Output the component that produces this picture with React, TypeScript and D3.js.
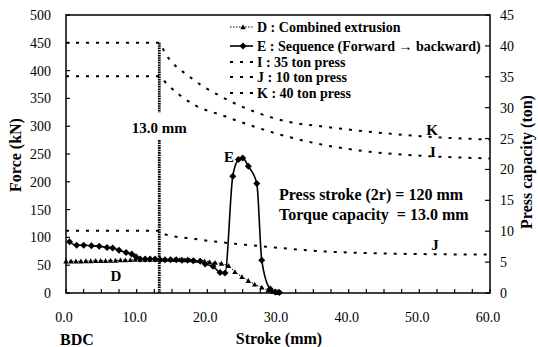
import { line, curveMonotoneX, curveLinear, range, scaleLinear } from "d3";

const W = 538;
const H = 347;
const M = { top: 15, right: 48, bottom: 54, left: 66 };

// stroke (mm) / force (kN)
const seriesK: [number, number][] = [
  [0, 450], [13.2, 450], [14.0, 432], [17.8, 386], [22.0, 353], [26.7, 326],
  [31.4, 308], [36.6, 299], [43.0, 290], [50.1, 282], [60, 276],
];
const seriesI: [number, number][] = [
  [0, 390], [13.2, 390], [14.2, 377], [18.2, 338], [22.0, 320], [26.7, 299],
  [31.4, 281], [36.6, 266], [43.0, 254], [50.1, 247], [60, 242],
];
const seriesJ: [number, number][] = [
  [0, 112], [13.2, 112], [13.6, 107], [18.3, 97], [22.9, 90], [27.7, 84],
  [36.2, 75], [45.6, 71], [60, 69],
];
const seriesE: [number, number][] = [
  [0.5, 92], [1.5, 86], [2.5, 86], [3.6, 85], [4.7, 84], [5.8, 82], [6.6, 81],
  [7.5, 77], [8.5, 73], [9.3, 70], [9.9, 65], [10.5, 61], [11.2, 61], [11.9, 61],
  [12.6, 61], [13.3, 60], [14.0, 60], [14.8, 60], [15.6, 60], [16.4, 59], [17.2, 59],
  [18.0, 58], [19.0, 57], [19.7, 52], [20.8, 48], [21.8, 37], [22.5, 36],
  [23.6, 210], [24.4, 240], [25.0, 243], [25.8, 228], [27.0, 197], [27.7, 59],
  [28.9, 7], [29.6, 2], [30.2, 1],
];
const seriesD: [number, number][] = [
  [0.0, 57], [0.7, 57], [1.4, 57], [2.1, 57], [2.8, 57.5], [3.5, 57.5], [4.2, 58],
  [4.9, 58], [5.6, 58], [6.3, 58.5], [7.0, 58.5], [7.7, 59], [8.4, 59], [9.1, 59.5],
  [9.8, 60], [10.5, 60], [11.2, 60], [11.9, 60], [12.6, 60], [13.3, 60], [14.0, 60],
  [14.7, 60], [15.4, 59.5], [16.1, 59.5], [16.8, 59], [17.5, 59], [18.2, 58.5],
  [18.9, 58], [19.6, 57], [20.3, 56], [21.1, 54.5], [22.0, 53], [23.0, 49],
  [23.9, 38], [24.9, 29], [25.8, 22], [26.7, 15.6], [27.7, 10], [28.6, 5],
  [29.3, 2], [30.0, 0.5],
];

const TORQUE_STROKE = 13.2;
const torqueSegments: [number, number][] = [[450, 324], [275, 0]];

const xTickValues = [0, 10, 20, 30, 40, 50, 60];
const yTickValues = [0, 50, 100, 150, 200, 250, 300, 350, 400, 450, 500];
const yRightTickValues = [0, 5, 10, 15, 20, 25, 30, 35, 40, 45];

const legendItems = [
  { key: "D", text: "D : Combined extrusion" },
  { key: "E", text: "E : Sequence (Forward \u2192 backward)" },
  { key: "I", text: "I : 35 ton press" },
  { key: "J", text: "J : 10 ton press" },
  { key: "K", text: "K : 40 ton press" },
];
const legendRows = [27, 46, 62, 77, 93];

const FONT = '"Liberation Serif"';

export default function App() {
  const x = scaleLinear().domain([0, 60]).range([M.left, W - M.right]);
  const y = scaleLinear().domain([0, 500]).range([H - M.bottom, M.top]);
  const yR = scaleLinear().domain([0, 45]).range([H - M.bottom, M.top]);

  const smooth = line<[number, number]>()
    .x((d) => x(d[0]))
    .y((d) => y(d[1]))
    .curve(curveMonotoneX);
  const straight = line<[number, number]>()
    .x((d) => x(d[0]))
    .y((d) => y(d[1]))
    .curve(curveLinear);

  const x0 = M.left;
  const x1 = W - M.right;
  const y0 = H - M.bottom;
  const y1 = M.top;

  const tri = (cx: number, cy: number, s = 2.7) =>
    `M${cx},${cy - s} L${cx + s},${cy + s * 0.8} L${cx - s},${cy + s * 0.8} Z`;
  const diamond = (cx: number, cy: number, s = 3.5) =>
    `M${cx},${cy - s} L${cx + s},${cy} L${cx},${cy + s} L${cx - s},${cy} Z`;

  const capStyle = { fill: "none", stroke: "#000", strokeWidth: 2, strokeDasharray: "3 7" };
  const txt = { fontFamily: FONT };

  return (
    <svg
      width={W}
      height={H}
      viewBox={`0 0 ${W} ${H}`}
      style={{ position: "absolute", left: 0, top: 0, background: "#fff" }}
    >
      <rect x={0} y={0} width={W} height={H} fill="#fff" />

      {/* press capacity curves */}
      <path d={smooth(seriesK) ?? ""} {...capStyle} />
      <path d={smooth(seriesI) ?? ""} {...capStyle} />
      <path d={smooth(seriesJ) ?? ""} {...capStyle} />

      {/* torque capacity line */}
      {torqueSegments.map(([a, b], i) => (
        <line
          key={i}
          x1={x(TORQUE_STROKE)}
          x2={x(TORQUE_STROKE)}
          y1={y(a)}
          y2={y(b)}
          stroke="#000"
          strokeWidth={2.8}
          strokeDasharray="1.6 0.8"
        />
      ))}

      {/* D */}
      <path d={straight(seriesD) ?? ""} fill="none" stroke="#000" strokeWidth={1} strokeDasharray="1.5 1.5" />
      {seriesD.map((d, i) => (
        <path key={i} d={tri(x(d[0]), y(d[1]))} fill="#000" />
      ))}

      {/* E */}
      <path d={smooth(seriesE) ?? ""} fill="none" stroke="#000" strokeWidth={1.6} />
      {seriesE.map((d, i) => (
        <path key={i} d={diamond(x(d[0]), y(d[1]))} fill="#000" />
      ))}

      {/* frame */}
      <rect x={x0} y={y1} width={x1 - x0} height={y0 - y1} fill="none" stroke="#000" strokeWidth={1.5} />

      {/* bottom ticks */}
      {range(0, 60.01, 2.5).map((v) => (
        <line key={v} x1={x(v)} x2={x(v)} y1={y0} y2={y0 - 4} stroke="#000" strokeWidth={1.2} />
      ))}
      {xTickValues.map((v) => (
        <text key={v} style={txt} x={x(v) - 2} y={322} textAnchor="middle" fontSize={14} fill="#000">
          {v.toFixed(1)}
        </text>
      ))}

      {/* left ticks */}
      {yTickValues.map((v) => (
        <g key={v}>
          <line x1={x0} x2={x0 + 4} y1={y(v)} y2={y(v)} stroke="#000" strokeWidth={1.2} />
          <text style={txt} x={51} y={y(v) + 5} textAnchor="end" fontSize={14} fill="#000">
            {v}
          </text>
        </g>
      ))}

      {/* right ticks */}
      {yRightTickValues.map((v) => (
        <g key={v}>
          <line x1={x1} x2={x1 - 5} y1={yR(v)} y2={yR(v)} stroke="#000" strokeWidth={1.2} />
          <text style={txt} x={500} y={yR(v) + 5} textAnchor="start" fontSize={14} fill="#000">
            {v}
          </text>
        </g>
      ))}

      {/* axis titles */}
      <text
        style={txt}
        transform={`translate(21,155) rotate(-90)`}
        textAnchor="middle"
        fontSize={16}
        fontWeight="bold"
        fill="#000"
      >
        Force (kN)
      </text>
      <text
        style={txt}
        transform={`translate(532,162) rotate(-90)`}
        textAnchor="middle"
        fontSize={16}
        fontWeight="bold"
        fill="#000"
      >
        Press capacity (ton)
      </text>
      <text style={txt} x={279} y={344} textAnchor="middle" fontSize={16} fontWeight="bold" fill="#000">
        Stroke (mm)
      </text>
      <text style={txt} x={60} y={345} fontSize={16} fontWeight="bold" fill="#000">
        BDC
      </text>

      {/* legend */}
      {legendItems.map((it, i) => {
        const ly = legendRows[i];
        return (
          <g key={it.key}>
            {it.key === "D" && (
              <>
                <line x1={230} x2={253} y1={ly} y2={ly} stroke="#000" strokeWidth={1} strokeDasharray="1.5 1.5" />
                <path d={tri(243, ly)} fill="#000" />
              </>
            )}
            {it.key === "E" && (
              <>
                <line x1={230} x2={253} y1={ly} y2={ly} stroke="#000" strokeWidth={1.6} />
                <path d={diamond(243, ly)} fill="#000" />
              </>
            )}
            {(it.key === "I" || it.key === "J" || it.key === "K") && (
              <line x1={230} x2={253} y1={ly} y2={ly} {...capStyle} />
            )}
            <text style={txt} x={257} y={ly + 5} fontSize={14} fontWeight="bold" fill="#000">
              {it.text}
            </text>
          </g>
        );
      })}

      {/* annotations */}
      <text style={txt} x={x(TORQUE_STROKE)} y={133} textAnchor="middle" fontSize={15} fontWeight="bold" fill="#000">
        13.0 mm
      </text>
      <text style={txt} x={279} y={200} fontSize={16} fontWeight="bold" fill="#000">
        Press stroke (2r) = 120 mm
      </text>
      <text style={{ ...txt, whiteSpace: "pre" }} x={279} y={220} fontSize={16} fontWeight="bold" fill="#000">
        Torque capacity  = 13.0 mm
      </text>
      <text style={txt} x={432} y={135} textAnchor="middle" fontSize={15} fontWeight="bold" fill="#000">K</text>
      <text style={txt} x={433} y={157} textAnchor="middle" fontSize={15} fontWeight="bold" fill="#000">I</text>
      <text style={txt} x={435} y={250} textAnchor="middle" fontSize={15} fontWeight="bold" fill="#000">J</text>
      <text style={txt} x={229} y={162} textAnchor="middle" fontSize={15} fontWeight="bold" fill="#000">E</text>
      <text style={txt} x={116} y={281} textAnchor="middle" fontSize={15} fontWeight="bold" fill="#000">D</text>
    </svg>
  );
}
